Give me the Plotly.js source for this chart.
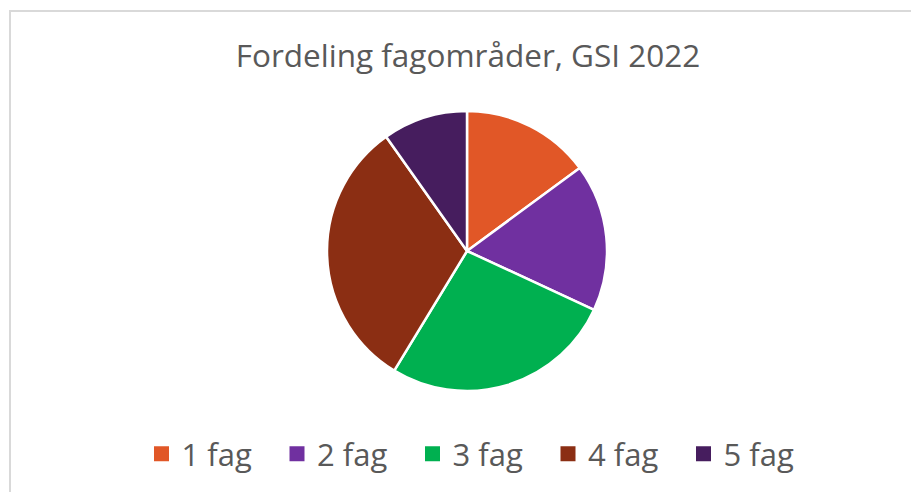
<!DOCTYPE html>
<html>
<head>
<meta charset="utf-8">
<script src="https://cdn.plot.ly/plotly-3.0.1.min.js"></script>
<style>
html,body{margin:0;padding:0;background:#fff;}
#wrap{position:relative;width:911px;height:492px;overflow:hidden;}
#chart{width:911px;height:492px;}
#frame{position:absolute;left:9px;top:10px;width:920px;height:500px;border-top:2px solid #D9D9D9;border-left:2px solid #D9D9D9;pointer-events:none;}
</style>
</head>
<body>
<div id="wrap"><div id="chart"></div><div id="frame"></div></div>
<script>
const categories = ["1 fag", "2 fag", "3 fag", "4 fag", "5 fag"];
const shares = [14.9, 17.0, 26.8, 31.5, 9.8];
const colors = ["#E15727", "#7030A0", "#00B050", "#8B2E13", "#461D5E"];
const chartTitle = "Fordeling fagområder, GSI 2022";

const W = 911, H = 492;
const cx = 467, cy = 251, r = 140;
const FONT = "'Open Sans', Lato, sans-serif";

const trace = {
  type: "pie",
  labels: categories,
  values: shares,
  sort: false,
  direction: "clockwise",
  rotation: 0,
  textinfo: "none",
  hoverinfo: "none",
  marker: {colors: colors, line: {color: "#ffffff", width: 2.5}},
  domain: {x: [(cx - r) / W, (cx + r) / W], y: [(H - cy - r) / H, (H - cy + r) / H]}
};

const layout = {
  width: W, height: H,
  margin: {l: 0, r: 0, t: 0, b: 0},
  paper_bgcolor: "#ffffff",
  font: {family: FONT, color: "#595959"},
  title: {text: chartTitle, x: 468 / W, xanchor: "center", y: 1 - 56 / H, yanchor: "middle", yref: "container",
          font: {size: 31.5, color: "#595959", family: FONT}},
  showlegend: true,
  legend: {orientation: "h", x: 141.5 / W, xanchor: "left", y: (H - 454) / H, yanchor: "middle",
           entrywidth: 90.5, entrywidthmode: "pixels", traceorder: "normal",
           font: {size: 31, color: "#595959", family: FONT}, bgcolor: "rgba(0,0,0,0)"}
};

function fixLegendSymbols() {
  document.querySelectorAll("#chart .legendpoints path").forEach(p => {
    p.style.strokeWidth = "0px";
    p.setAttribute("d", "M7.5,7.5H-7.5V-7.5H7.5Z");
  });
}

Plotly.newPlot("chart", [trace], layout, {staticPlot: true, displayModeBar: false}).then(fixLegendSymbols);
</script>
</body>
</html>
